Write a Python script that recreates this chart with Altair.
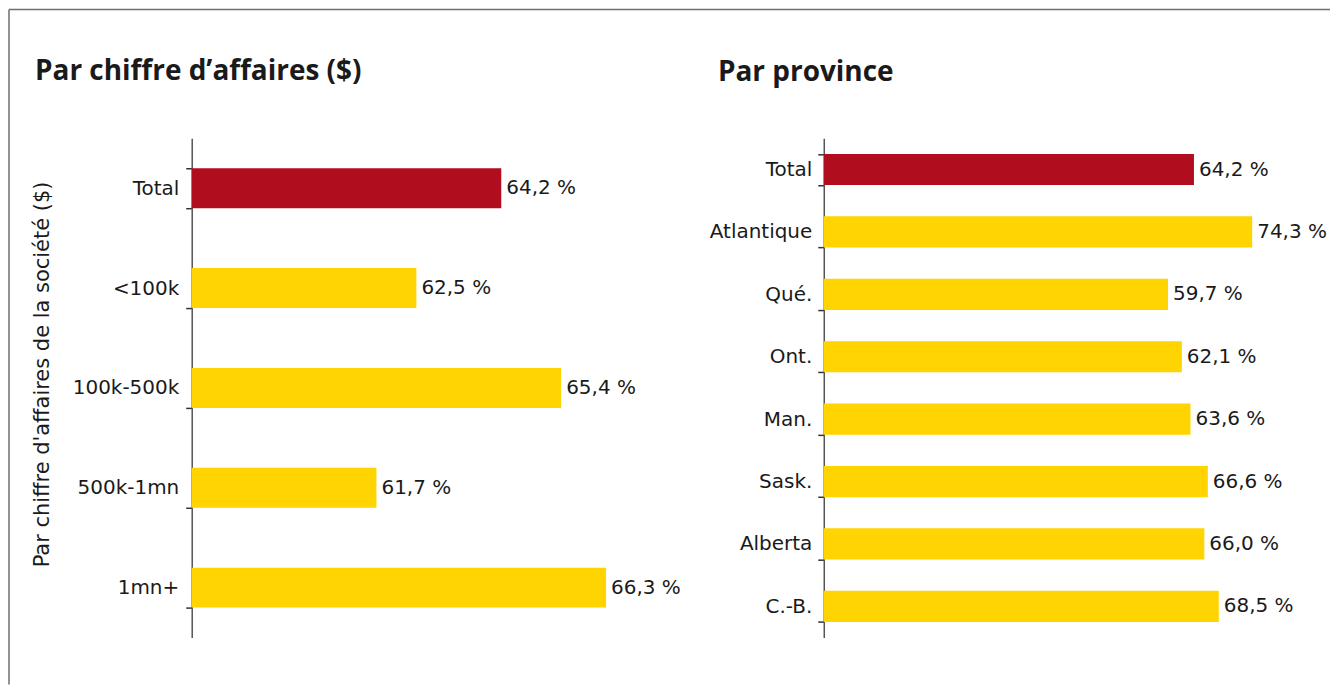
import altair as alt
import pandas as pd

# ---- data ----
cats_ca = ["Total", "<100k", "100k-500k", "500k-1mn", "1mn+"]
vals_ca = [64.2, 62.5, 65.4, 61.7, 66.3]

cats_prov = ["Total", "Atlantique", "Qué.", "Ont.", "Man.", "Sask.", "Alberta", "C.-B."]
vals_prov = [64.2, 74.3, 59.7, 62.1, 63.6, 66.6, 66.0, 68.5]

title_ca = "Par chiffre d’affaires ($)"
title_prov = "Par province"
axis_title_ca = "Par chiffre d'affaires de la société ($)"

RED = "#B00D1F"
YELLOW = "#FFD400"
FONT = "DejaVu Sans"
TFONT = "Open Sans"
FRAME = "#6e6e6e"


def make_df(cats, vals):
    return pd.DataFrame({
        "cat": cats,
        "val": vals,
        "lab": [f"{v:.1f} %".replace(".", ",") for v in vals],
        "grp": ["total" if c == "Total" else "autre" for c in cats],
    })


df1 = make_df(cats_ca, vals_ca)
df2 = make_df(cats_prov, vals_prov)

color = alt.Color("grp:N", scale=alt.Scale(domain=["total", "autre"], range=[RED, YELLOW]), legend=None)


def yaxis(title, pad, **kw):
    return alt.Axis(
        title=title, tickBand="extent", grid=False,
        labelFont=FONT, labelFontSize=20, labelColor="#1a1a1a", labelPadding=pad,
        titleFont=FONT, titleFontSize=21, titleFontWeight="normal", titleColor="#1a1a1a",
        titlePadding=20, domainColor="#555555", domainWidth=1.5,
        tickColor="#333333", tickWidth=1.5, tickSize=6, **kw
    )


# ---- left panel ----
y1 = alt.Y("cat:N", sort=cats_ca, scale=alt.Scale(paddingInner=0.6, paddingOuter=0.3),
           axis=yaxis(axis_title_ca, 7, titleY=236))
x1 = alt.X("val:Q", scale=alt.Scale(domain=[58, 68], zero=False, nice=False), axis=None)

bars1 = alt.Chart(df1).mark_bar().encode(y=y1, x=x1, x2=alt.datum(58), color=color)
text1 = alt.Chart(df1).mark_text(align="left", baseline="middle", dx=5, font=FONT, fontSize=20,
                                 color="#1a1a1a").encode(
    y=alt.Y("cat:N", sort=cats_ca), x="val:Q", text="lab:N")

one = pd.DataFrame({"k": [0]})
top_rule = alt.Chart(one).mark_rule(color=FRAME, strokeWidth=1.5).encode(
    x=alt.value(-183), x2=alt.value(1140), y=alt.value(-129))
left_rule = alt.Chart(one).mark_rule(color=FRAME, strokeWidth=1.5).encode(
    x=alt.value(-183), y=alt.value(-129), y2=alt.value(547))

left = alt.layer(bars1, text1, top_rule, left_rule).properties(
    width=500, height=500,
    title=alt.TitleParams(title_ca, anchor="start", frame="group", font=TFONT, fontSize=28,
                          fontWeight="bold", color="#1a1a1a", offset=-77, dx=-157),
)

# ---- right panel ----
y2 = alt.Y("cat:N", sort=cats_prov, scale=alt.Scale(paddingInner=0.5, paddingOuter=0.25),
           axis=yaxis("", 6))
x2 = alt.X("val:Q", scale=alt.Scale(domain=[0, 80], nice=False), axis=None)

bars2 = alt.Chart(df2).mark_bar().encode(y=y2, x=x2, color=color)
text2 = alt.Chart(df2).mark_text(align="left", baseline="middle", dx=5, font=FONT, fontSize=20,
                                 color="#1a1a1a").encode(
    y=alt.Y("cat:N", sort=cats_prov), x="val:Q", text="lab:N")

right = alt.layer(bars2, text2).properties(
    width=462, height=500,
    title=alt.TitleParams(title_prov, anchor="start", frame="group", font=TFONT, fontSize=28,
                          fontWeight="bold", color="#1a1a1a", offset=41, dx=-106),
)

chart = alt.HConcatChart(hconcat=[left, right], spacing=133, bounds="flush", padding=0).configure_view(
    stroke=None).resolve_scale(y="independent", x="independent", color="shared")

chart.save("out.html", embed_options={"renderer": "svg", "actions": False})
